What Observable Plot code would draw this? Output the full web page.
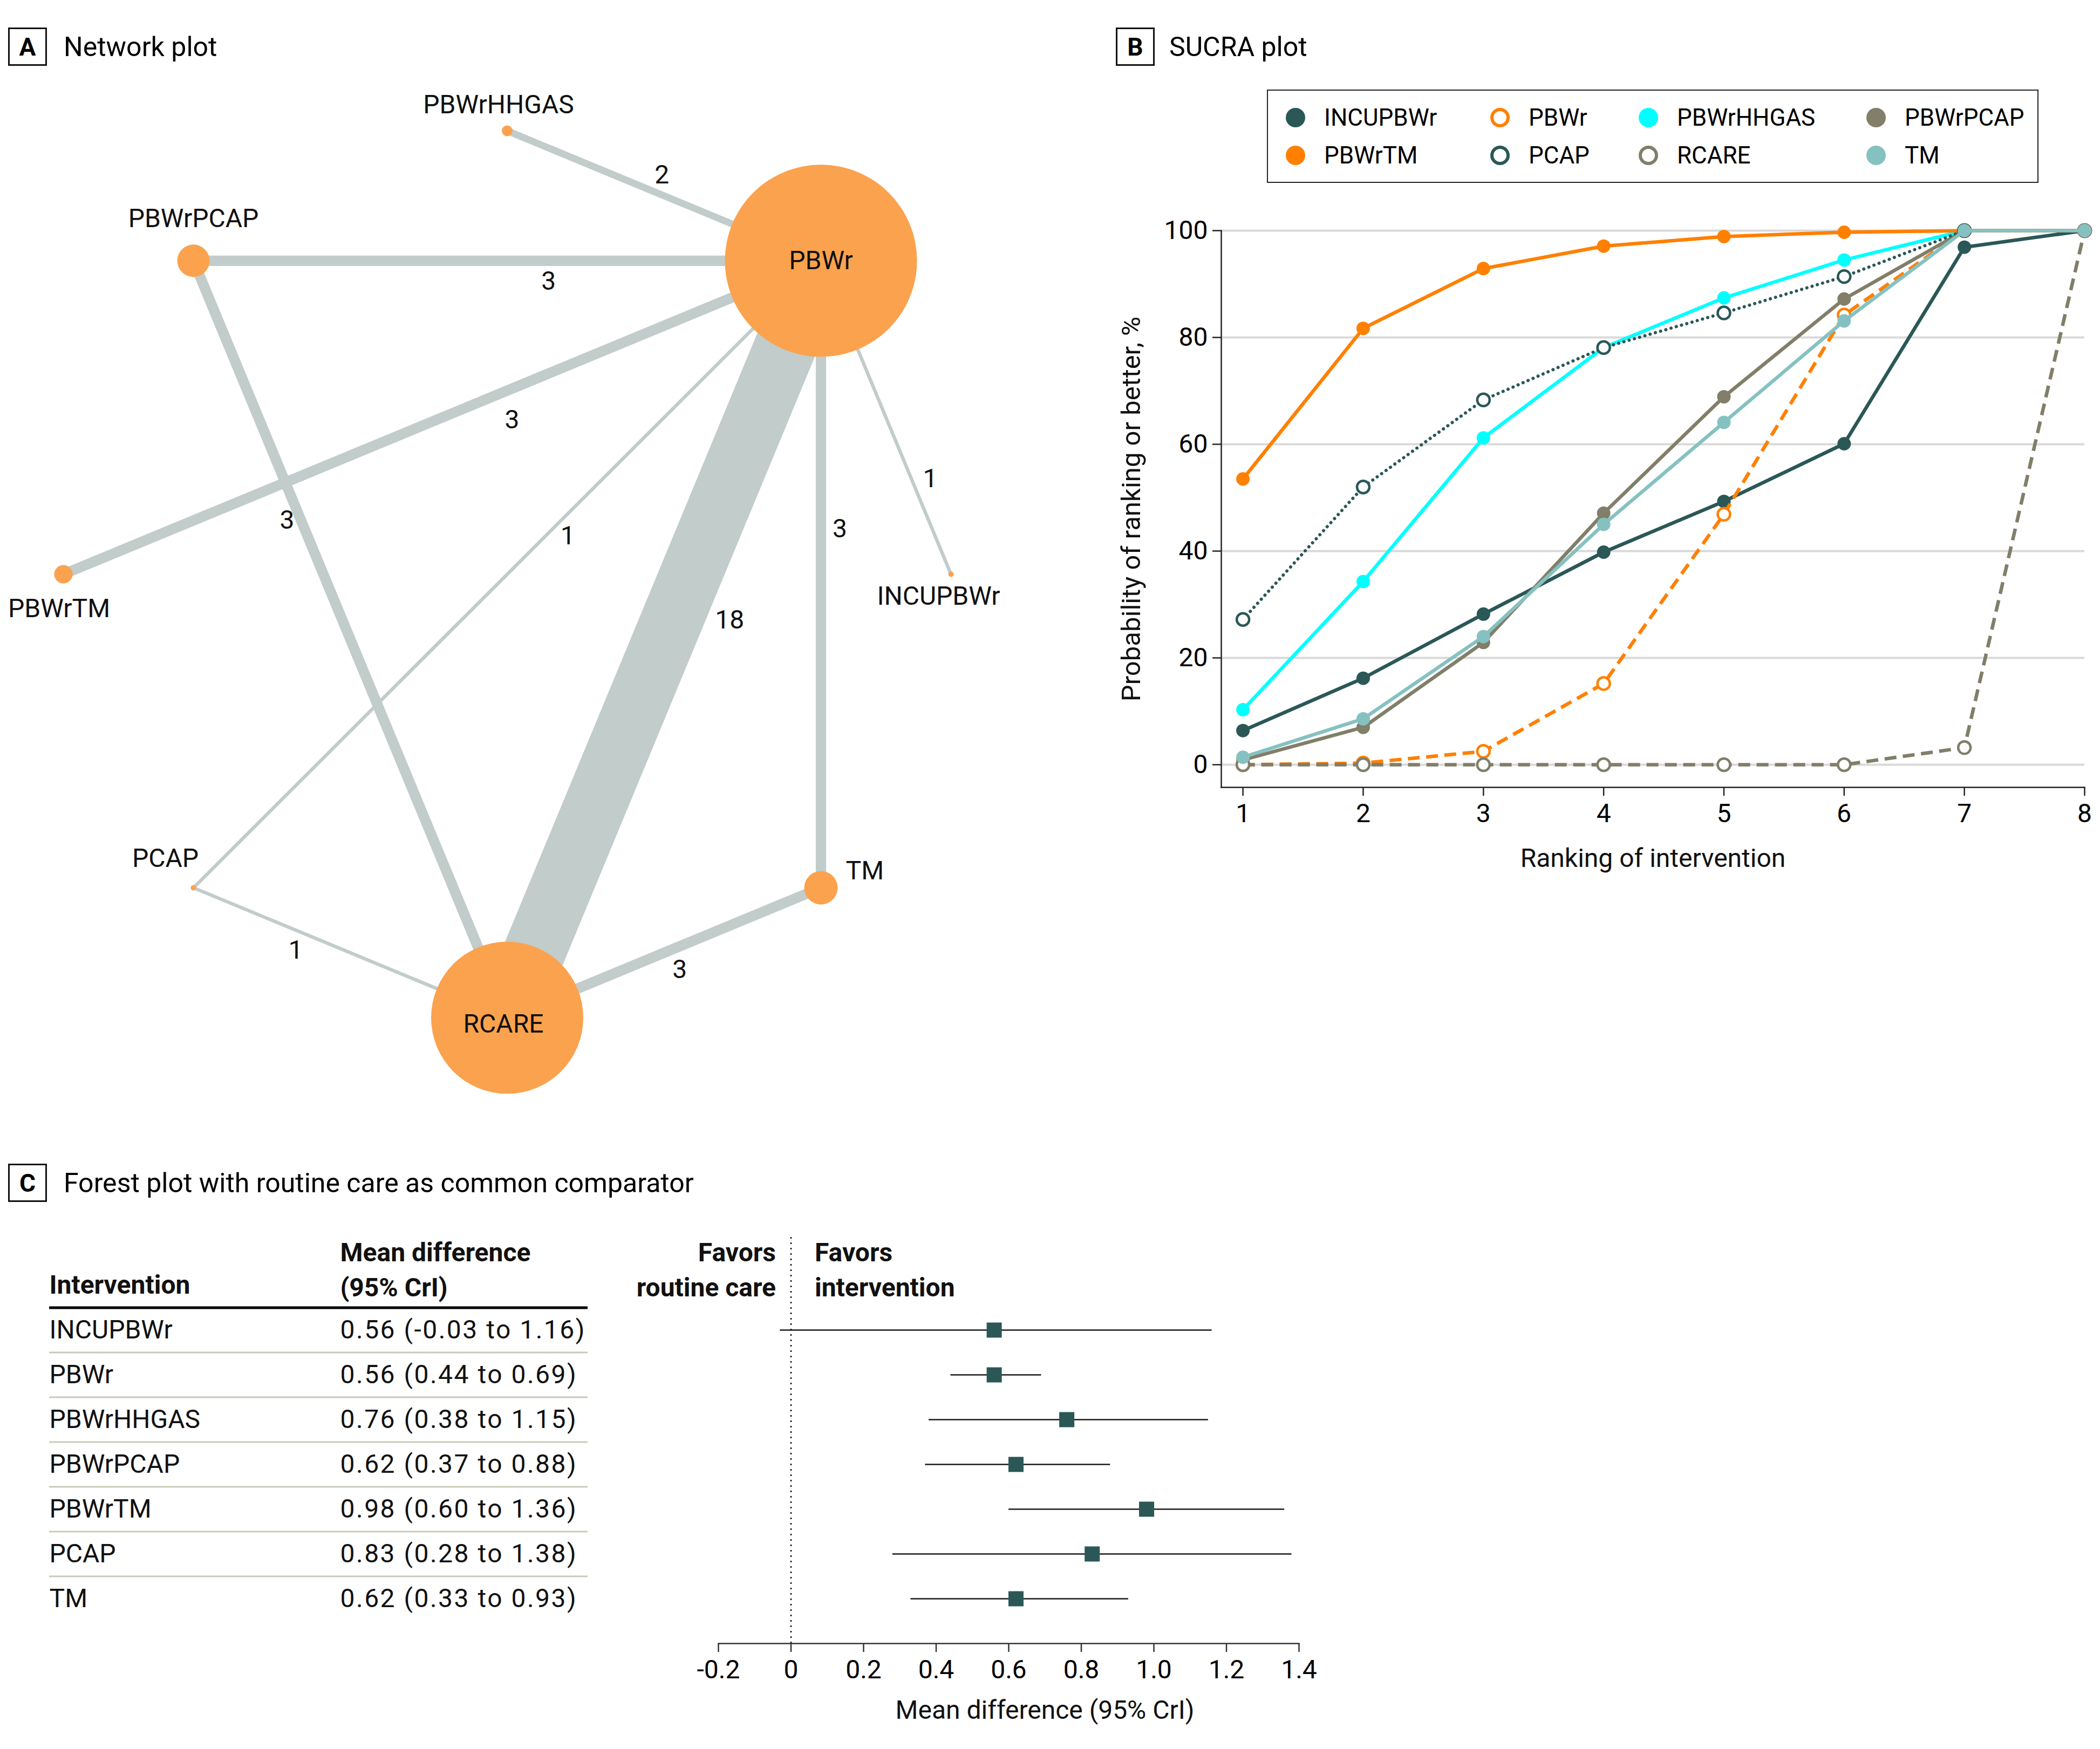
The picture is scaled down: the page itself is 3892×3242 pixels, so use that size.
<!DOCTYPE html>
<html>
<head>
<meta charset="utf-8">
<script src="https://cdn.jsdelivr.net/npm/d3@7"></script>
<script src="https://cdn.jsdelivr.net/npm/@observablehq/plot@0.6"></script>
<style>
  html, body { margin: 0; padding: 0; background: #fff; }
  body { width: 3892px; height: 3242px; position: relative; overflow: hidden;
         font-family: Roboto, "DejaVu Sans", sans-serif; color: #000; }
  .tag { position: absolute; box-sizing: border-box; width: 72px; height: 71px; border: 3px solid #111;
         font-weight: bold; font-size: 46px; display: flex; align-items: center; justify-content: center; }
  .ptitle { position: absolute; font-size: 50px; line-height: 1; white-space: nowrap; }
  .plotwrap { position: absolute; }
  .plotwrap svg { overflow: visible; }
  #legend { position: absolute; left: 2348px; top: 166px; width: 1430px; height: 173px; box-sizing: border-box;
            border: 2.5px solid #222; padding: 15px 0 0 33px; display: grid;
            grid-template-columns: 379px 275px 422px auto; grid-auto-rows: 70px; }
  .li { display: flex; align-items: center; font-size: 44px; white-space: nowrap; }
  .sym { width: 36px; height: 36px; border-radius: 50%; box-sizing: border-box; margin-right: 35px; flex: none; }
</style>
</head>
<body>
<div class="tag" style="left:15px;top:51px">A</div>
<div class="ptitle" style="left:118px;top:62px">Network plot</div>
<div class="tag" style="left:2068px;top:51px">B</div>
<div class="ptitle" style="left:2167px;top:62px">SUCRA plot</div>
<div class="tag" style="left:15px;top:2157px">C</div>
<div class="ptitle" style="left:118px;top:2168px">Forest plot with routine care as common comparator</div>
<div id="legend"></div>
<div class="plotwrap" id="netA" style="left:0;top:0"></div>
<div class="plotwrap" id="sucraB" style="left:2000px;top:380px"></div>
<div class="plotwrap" id="tableC" style="left:0;top:2250px"></div>
<div class="plotwrap" id="forestC" style="left:1200px;top:2250px"></div>
<script>
// ---------------- Panel A: network data ----------------
const nodeNames = ["PBWrHHGAS", "PBWr", "INCUPBWr", "TM", "RCARE", "PCAP", "PBWrTM", "PBWrPCAP"];
const nodeX = [0, 0.707, 1, 0.707, 0, -0.707, -1, -0.707];
const nodeY = [1, 0.707, 0, -0.707, -1, -0.707, 0, 0.707];
const nodeSize = [1.0, 316.8, 0.25, 9.6, 198.8, 0.25, 2.9, 9.0];
const edgeFrom = ["PBWrHHGAS", "PBWrPCAP", "PBWrTM", "PBWrPCAP", "PCAP", "PBWr", "PBWr", "PBWr", "PCAP", "RCARE"];
const edgeTo = ["PBWr", "PBWr", "PBWr", "RCARE", "PBWr", "RCARE", "TM", "INCUPBWr", "RCARE", "TM"];
const edgeStudies = [2, 3, 3, 3, 1, 18, 3, 1, 1, 3];

// ---------------- Panel B: SUCRA data ----------------
const ranks = [1, 2, 3, 4, 5, 6, 7, 8];
const seriesNames = ["INCUPBWr", "PBWr", "PBWrHHGAS", "PBWrPCAP", "PBWrTM", "PCAP", "RCARE", "TM"];
const probINCUPBWr = [6.4, 16.2, 28.2, 39.8, 49.3, 60.1, 96.9, 100];
const probPBWr = [0, 0.3, 2.5, 15.2, 46.9, 84.2, 100, 100];
const probPBWrHHGAS = [10.3, 34.3, 61.2, 78.1, 87.4, 94.5, 100, 100];
const probPBWrPCAP = [0.9, 7.0, 22.9, 47.1, 68.9, 87.2, 100, 100];
const probPBWrTM = [53.5, 81.7, 92.9, 97.1, 98.9, 99.7, 100, 100];
const probPCAP = [27.2, 52.0, 68.3, 78.1, 84.6, 91.4, 100, 100];
const probRCARE = [0, 0, 0, 0, 0, 0, 3.2, 100];
const probTM = [1.4, 8.6, 24.0, 45.0, 64.1, 83.1, 100, 100];
const yTicksB = [0, 20, 40, 60, 80, 100];

// ---------------- Panel C: forest data ----------------
const interventions = ["INCUPBWr", "PBWr", "PBWrHHGAS", "PBWrPCAP", "PBWrTM", "PCAP", "TM"];
const meanDiff = [0.56, 0.56, 0.76, 0.62, 0.98, 0.83, 0.62];
const ciLow = [-0.03, 0.44, 0.38, 0.37, 0.60, 0.28, 0.33];
const ciHigh = [1.16, 0.69, 1.15, 0.88, 1.36, 1.38, 0.93];
const forestTicks = [-0.2, 0, 0.2, 0.4, 0.6, 0.8, 1.0, 1.2, 1.4];

// ---------------- Styles / layout ----------------
const FONT = "Roboto, 'DejaVu Sans', sans-serif";
const NODE_COLOR = "#fba24e";
const EDGE_COLOR = "#c1cccb";
const edgeLabelT = [0.5, 0.566, 0.59, 0.343, 0.6, 0.475, 0.428, 0.695, 0.326, 0.55];
const edgeLabelDx = [-4, 0, 3, -26, -4, 107, 35, 35, 0, 0];
const edgeLabelDy = [-38, 38, 57, 0, 45, 0, 0, 0, 37, 44];
const nodeLabelDx = [-16, 0, -23, 46, -7, -52, -8, 0];
const nodeLabelDy = [-48, 0, 41, -31, 12, -54, 64, -78];
const nodeLabelAnchor = ["middle", "middle", "middle", "start", "middle", "middle", "middle", "middle"];

const DARK = "#2b5757", ORANGE = "#ff8000", CYAN = "#00ffff", OLIVE = "#817e69", LTEAL = "#86c1c1";
const seriesStyle = {
  INCUPBWr:  {color: DARK,   filled: true,  dash: null},
  PBWr:      {color: ORANGE, filled: false, dash: "22,12"},
  PBWrHHGAS: {color: CYAN,   filled: true,  dash: null},
  PBWrPCAP:  {color: OLIVE,  filled: true,  dash: null},
  PBWrTM:    {color: ORANGE, filled: true,  dash: null},
  PCAP:      {color: DARK,   filled: false, dash: "0.1,10", dotted: true},
  RCARE:     {color: OLIVE,  filled: false, dash: "22,12"},
  TM:        {color: LTEAL,  filled: true,  dash: null}
};

// ================= Panel A =================
const nodes = nodeNames.map((name, i) => ({name, x: nodeX[i], y: nodeY[i], size: nodeSize[i]}));
const byName = Object.fromEntries(nodes.map(n => [n.name, n]));
const edges = edgeFrom.map((f, i) => ({from: byName[f], to: byName[edgeTo[i]], n: edgeStudies[i]}));

const netPlot = Plot.plot({
  width: 1950, height: 2100,
  marginLeft: 117, marginRight: 188, marginTop: 242, marginBottom: 214,
  x: {domain: [-1, 1], axis: null},
  y: {domain: [-1, 1], axis: null},
  r: {type: "sqrt", domain: [0, 316.8], range: [0, 178]},
  style: {fontFamily: FONT, fontSize: "48px", background: "transparent", overflow: "visible"},
  marks: [
    Plot.link(edges, {
      x1: d => d.from.x, y1: d => d.from.y, x2: d => d.to.x, y2: d => d.to.y,
      stroke: EDGE_COLOR, strokeWidth: d => 6.4 * d.n, strokeOpacity: 1, strokeLinecap: "butt"
    }),
    Plot.dot(nodes, {x: "x", y: "y", r: "size", fill: NODE_COLOR, stroke: null}),
    ...edges.map((e, i) => Plot.text([e], {
      x: d => d.from.x + edgeLabelT[i] * (d.to.x - d.from.x),
      y: d => d.from.y + edgeLabelT[i] * (d.to.y - d.from.y),
      text: d => String(d.n), dx: edgeLabelDx[i], dy: edgeLabelDy[i],
      fontSize: 48, fill: "#111"
    })),
    ...nodes.map((n, i) => Plot.text([n], {
      x: "x", y: "y", text: "name", dx: nodeLabelDx[i], dy: nodeLabelDy[i],
      textAnchor: nodeLabelAnchor[i], fontSize: 48, fill: "#111"
    }))
  ]
});
document.getElementById("netA").appendChild(netPlot);

// ================= Panel B =================
const seriesValues = {
  INCUPBWr: probINCUPBWr, PBWr: probPBWr, PBWrHHGAS: probPBWrHHGAS, PBWrPCAP: probPBWrPCAP,
  PBWrTM: probPBWrTM, PCAP: probPCAP, RCARE: probRCARE, TM: probTM
};
const seriesMarks = [];
for (const s of seriesNames) {
  const st = seriesStyle[s];
  const rows = ranks.map((r, i) => ({rank: r, p: seriesValues[s][i]}));
  seriesMarks.push(Plot.line(rows, {
    x: "rank", y: "p", stroke: st.color, strokeWidth: st.dotted ? 6 : 6.5,
    strokeDasharray: st.dash, strokeLinecap: st.dotted ? "round" : "butt"
  }));
  seriesMarks.push(Plot.dot(rows, st.filled
    ? {x: "rank", y: "p", r: 12.5, fill: st.color, stroke: null}
    : {x: "rank", y: "p", r: 11.5, fill: "white", stroke: st.color, strokeWidth: 4.5}));
}

const sucraPlot = Plot.plot({
  width: 1892, height: 1300,
  marginLeft: 263, marginRight: 29, marginTop: 47, marginBottom: 221,
  x: {domain: [0.82, 8]},
  y: {domain: [-4.24, 100]},
  style: {fontFamily: FONT, fontSize: "48px", background: "transparent", overflow: "visible"},
  marks: [
    Plot.gridY(yTicksB, {stroke: "#d9d9d9", strokeOpacity: 1, strokeWidth: 4}),
    Plot.frame({anchor: "left", stroke: "#222", strokeWidth: 2.5}),
    Plot.frame({anchor: "bottom", stroke: "#222", strokeWidth: 2.5}),
    Plot.axisY({ticks: yTicksB, tickSize: 16, tickPadding: 9, fontSize: 48, label: null, stroke: "#222", strokeWidth: 2.5}),
    Plot.axisX({ticks: ranks, tickSize: 16, tickPadding: 14, fontSize: 48, label: null, stroke: "#222", strokeWidth: 2.5}),
    Plot.text(["Probability of ranking or better, %"], {frameAnchor: "left", dx: -166, rotate: -90, textAnchor: "middle", lineAnchor: "middle", fontSize: 49, fill: "#111"}),
    Plot.text(["Ranking of intervention"], {frameAnchor: "bottom", dy: 132, lineAnchor: "middle", fontSize: 48, fill: "#111"}),
    ...seriesMarks
  ]
});
document.getElementById("sucraB").appendChild(sucraPlot);

// legend
const legend = document.getElementById("legend");
for (const s of seriesNames) {
  const st = seriesStyle[s];
  const item = document.createElement("div");
  item.className = "li";
  const sym = document.createElement("span");
  sym.className = "sym";
  if (st.filled) sym.style.background = st.color;
  else sym.style.border = `6px solid ${st.color}`;
  item.appendChild(sym);
  item.appendChild(document.createTextNode(s));
  legend.appendChild(item);
}

// ================= Panel C =================
const fmt = v => v.toFixed(2);
const forestRows = interventions.map((name, i) => ({
  row: i + 1, name, md: meanDiff[i], lo: ciLow[i], hi: ciHigh[i],
  ci: `${fmt(meanDiff[i])} (${fmt(ciLow[i])} to ${fmt(ciHigh[i])})`
}));
const rowY = {domain: [0.5, 7.5], range: [173.5, 754.5], axis: null};

const tablePlot = Plot.plot({
  width: 1150, height: 800,
  marginLeft: 91, marginRight: 61, marginTop: 43, marginBottom: 4,
  x: {type: "point", domain: ["name", "ci"], range: [91, 630], padding: 0, axis: null},
  y: rowY,
  style: {fontFamily: FONT, fontSize: "48px", background: "transparent", overflow: "visible"},
  marks: [
    Plot.ruleY([0.5], {stroke: "#000", strokeWidth: 5}),
    Plot.ruleY(d3.range(1.5, 7, 1), {stroke: "#cacabb", strokeWidth: 3}),
    Plot.text(forestRows, {x: () => "name", y: "row", text: "name", textAnchor: "start", fontSize: 48, fill: "#111"}),
    Plot.text(forestRows, {x: () => "ci", y: "row", text: "ci", textAnchor: "start", fontSize: 48, fill: "#111"}),
    Plot.text(["Intervention"], {x: () => "name", frameAnchor: "top", dy: 89, lineAnchor: "middle", textAnchor: "start", fontSize: 48, fontWeight: "bold", fill: "#111"}),
    Plot.text(["Mean difference\n(95% CrI)"], {x: () => "ci", frameAnchor: "top", dy: 56, lineAnchor: "middle", lineHeight: 1.354, textAnchor: "start", fontSize: 48, fontWeight: "bold", fill: "#111"})
  ]
});
document.getElementById("tableC").appendChild(tablePlot);
// wider digit spacing for the interval column, as in the reference typeface
tablePlot.querySelectorAll("text").forEach(t => {
  if (/ to /.test(t.textContent)) { t.setAttribute("letter-spacing", "2.5"); t.style.letterSpacing = "2.5px"; }
});

const forestFmt = v => v === 0 ? "0" : (v < 0 ? "-" : "") + Math.abs(v).toFixed(1);
const forestPlot = Plot.plot({
  width: 1307, height: 1000,
  marginLeft: 131, marginRight: 100, marginTop: 43, marginBottom: 204,
  x: {domain: [-0.2, 1.4]},
  y: rowY,
  style: {fontFamily: FONT, fontSize: "48px", background: "transparent", overflow: "visible"},
  marks: [
    Plot.ruleX([0], {stroke: "#111", strokeWidth: 2.5, strokeDasharray: "3,7"}),
    Plot.ruleY(forestRows, {y: "row", x1: "lo", x2: "hi", stroke: "#1a1a1a", strokeWidth: 2.5}),
    Plot.dot(forestRows, {x: "md", y: "row", symbol: "square", r: 15.8, fill: DARK, stroke: null}),
    Plot.frame({anchor: "bottom", stroke: "#333", strokeWidth: 2.5}),
    Plot.axisX({ticks: forestTicks, tickFormat: forestFmt, tickSize: 16, tickPadding: 14, fontSize: 48, label: null, stroke: "#333", strokeWidth: 2.5}),
    Plot.text(["Mean difference (95% CrI)"], {frameAnchor: "bottom", dy: 124, dx: 67, lineAnchor: "middle", fontSize: 48, fill: "#111"}),
    Plot.text([{x: 0, t: "Favors\nroutine care"}], {x: "x", text: "t", frameAnchor: "top", dy: 56, dx: -28, lineAnchor: "middle", lineHeight: 1.354, textAnchor: "end", fontSize: 48, fontWeight: "bold", fill: "#111"}),
    Plot.text([{x: 0, t: "Favors\nintervention"}], {x: "x", text: "t", frameAnchor: "top", dy: 56, dx: 44, lineAnchor: "middle", lineHeight: 1.354, textAnchor: "start", fontSize: 48, fontWeight: "bold", fill: "#111"})
  ]
});
document.getElementById("forestC").appendChild(forestPlot);
</script>
</body>
</html>
